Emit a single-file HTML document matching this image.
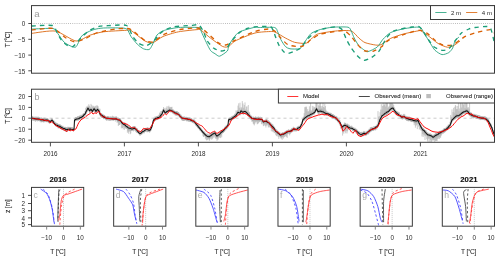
<!DOCTYPE html>
<html><head><meta charset="utf-8"><style>
html,body{margin:0;padding:0;background:#fff;width:500px;height:260px;overflow:hidden}
svg{display:block;will-change:transform;font-family:"Liberation Sans", sans-serif}
</style></head><body>
<svg width="500" height="260" viewBox="0 0 500 260">
<rect x="0" y="0" width="500" height="260" fill="#fff"/>
<defs><clipPath id="ca"><rect x="31.5" y="5.6" width="463.0" height="67.6"/></clipPath><clipPath id="cb"><rect x="31.5" y="89.2" width="463.0" height="53.1"/></clipPath><clipPath id="cc0"><rect x="31.5" y="187.4" width="52.2" height="38.8"/></clipPath><clipPath id="cc1"><rect x="113.7" y="187.4" width="52.2" height="38.8"/></clipPath><clipPath id="cc2"><rect x="195.8" y="187.4" width="52.2" height="38.8"/></clipPath><clipPath id="cc3"><rect x="278.0" y="187.4" width="52.2" height="38.8"/></clipPath><clipPath id="cc4"><rect x="360.1" y="187.4" width="52.2" height="38.8"/></clipPath><clipPath id="cc5"><rect x="442.3" y="187.4" width="52.2" height="38.8"/></clipPath></defs>
<line x1="31.50" y1="23.50" x2="494.50" y2="23.50" stroke="#8a8a8a" stroke-width="0.70" stroke-dasharray="0.8 1.35"/>
<g clip-path="url(#ca)">
<path d="M31.50 33.40 C34.37 33.12 50.06 30.19 55.40 31.10 C60.74 32.01 71.85 40.51 76.00 41.00 C80.15 41.49 86.70 36.30 90.00 35.20 C93.30 34.10 99.12 32.39 103.50 31.80 C107.88 31.21 123.20 30.46 126.50 30.30 C129.80 30.14 128.78 29.22 131.00 30.50 C133.22 31.78 142.36 39.55 145.00 41.00 C147.64 42.45 150.84 43.14 153.00 42.60 C155.16 42.06 159.94 37.80 163.00 36.50 C166.06 35.20 174.24 32.64 178.50 31.80 C182.76 30.96 195.78 29.68 198.50 29.50 C201.22 29.32 199.77 29.28 201.20 30.30 C202.63 31.32 207.82 36.06 210.40 38.00 C212.98 39.94 220.49 45.48 222.70 46.50 C224.91 47.52 227.32 47.16 228.80 46.50 C230.28 45.84 231.86 42.62 235.00 41.00 C238.14 39.38 250.62 34.14 255.00 33.00 C259.38 31.86 268.96 31.55 271.50 31.50 C274.04 31.45 274.53 31.82 276.20 32.60 C277.87 33.38 283.19 36.84 285.40 38.00 C287.61 39.16 292.20 41.65 294.60 42.30 C297.00 42.95 303.55 43.64 305.40 43.40 C307.25 43.16 308.57 41.40 310.00 40.30 C311.43 39.20 314.20 35.32 317.30 34.20 C320.40 33.08 331.73 31.38 335.80 31.00 C339.87 30.62 348.44 30.16 351.20 31.00 C353.96 31.84 357.14 36.61 358.80 38.00 C360.46 39.39 363.01 41.76 365.00 42.60 C366.99 43.44 373.46 44.76 375.40 45.00 C377.34 45.24 379.35 45.40 381.20 44.60 C383.05 43.80 388.04 39.60 390.80 38.30 C393.56 37.00 400.74 34.72 404.20 33.80 C407.66 32.88 417.56 30.94 419.60 30.60 C421.64 30.26 420.28 30.47 421.20 31.00 C422.12 31.53 425.28 33.51 427.30 35.00 C429.32 36.49 435.60 41.94 438.00 43.40 C440.40 44.86 445.44 46.92 447.30 47.20 C449.16 47.48 451.98 46.44 453.50 45.70 C455.02 44.96 459.22 41.56 460.00 41.00" fill="none" stroke="#d95f02" stroke-width="0.85" stroke-linejoin="round"/>
<path d="M31.50 29.10 C34.08 29.03 49.86 27.98 53.00 28.50 C56.14 29.02 56.31 31.71 57.70 33.40 C59.09 35.09 62.48 40.94 64.60 42.60 C66.72 44.26 73.46 47.85 75.40 47.20 C77.34 46.55 79.65 38.86 80.80 37.20 C81.95 35.54 83.39 34.32 85.00 33.40 C86.61 32.48 91.98 30.15 94.20 29.50 C96.42 28.85 100.16 28.18 103.50 28.00 C106.84 27.82 119.14 27.82 122.00 28.00 C124.86 28.18 126.22 28.48 127.30 29.50 C128.38 30.52 129.80 34.74 131.00 36.50 C132.20 38.26 135.80 42.72 137.30 44.20 C138.80 45.68 142.07 48.16 143.50 48.80 C144.93 49.44 148.14 49.96 149.20 49.50 C150.26 49.04 151.36 46.74 152.30 45.00 C153.24 43.26 155.52 36.76 157.00 35.00 C158.48 33.24 162.02 31.20 164.60 30.30 C167.18 29.40 174.43 27.84 178.50 27.50 C182.57 27.16 195.87 27.26 198.50 27.50 C201.13 27.74 199.72 28.24 200.40 29.50 C201.08 30.76 203.00 35.50 204.20 38.00 C205.40 40.50 209.10 48.42 210.40 50.30 C211.70 52.18 213.90 52.99 215.00 53.70 C216.10 54.41 218.12 56.52 219.60 56.20 C221.08 55.88 226.20 52.26 227.30 51.00 C228.40 49.74 228.06 47.26 228.80 45.70 C229.54 44.14 232.20 39.67 233.50 38.00 C234.80 36.33 237.02 33.10 239.60 31.80 C242.18 30.50 252.65 27.72 255.00 27.20 C257.35 26.68 256.85 27.46 259.20 27.50 C261.55 27.54 272.38 26.98 274.60 27.50 C276.82 28.02 276.96 30.36 277.70 31.80 C278.44 33.24 279.88 37.74 280.80 39.50 C281.72 41.26 284.30 45.38 285.40 46.50 C286.50 47.62 288.34 48.52 290.00 48.80 C291.66 49.08 297.72 49.17 299.20 48.80 C300.68 48.43 301.56 46.64 302.30 45.70 C303.04 44.76 304.33 42.48 305.40 41.00 C306.47 39.52 309.40 34.78 311.20 33.40 C313.00 32.02 317.82 30.24 320.40 29.50 C322.98 28.76 329.39 27.48 332.70 27.20 C336.01 26.92 345.78 26.74 348.00 27.20 C350.22 27.66 350.46 29.70 351.20 31.00 C351.94 32.30 353.29 36.24 354.20 38.00 C355.11 39.76 357.68 44.32 358.80 45.70 C359.92 47.08 362.43 48.78 363.50 49.50 C364.57 50.22 366.04 52.00 367.70 51.70 C369.36 51.40 375.46 48.50 377.30 47.00 C379.14 45.50 381.38 40.94 383.00 39.20 C384.62 37.46 388.26 33.76 390.80 32.50 C393.34 31.24 400.74 29.34 404.20 28.70 C407.66 28.06 417.20 26.64 419.60 27.20 C422.00 27.76 422.90 31.46 424.20 33.40 C425.50 35.34 429.10 41.37 430.40 43.40 C431.70 45.43 433.61 48.96 435.00 50.30 C436.39 51.64 440.34 54.32 442.00 54.60 C443.66 54.88 447.52 53.39 448.80 52.60 C450.08 51.81 451.96 49.39 452.70 48.00 C453.44 46.61 454.24 42.32 455.00 41.00 C455.76 39.68 458.52 37.48 459.00 37.00" fill="none" stroke="#1b9e77" stroke-width="0.85" stroke-linejoin="round"/>
<path d="M31.50 30.00 C34.08 29.82 48.86 27.54 53.00 28.50 C57.14 29.46 63.41 36.40 66.00 38.00 C68.59 39.60 72.56 41.62 74.60 41.80 C76.64 41.98 81.15 40.17 83.00 39.50 C84.85 38.83 88.28 37.03 90.00 36.20 C91.72 35.37 94.20 33.46 97.30 32.60 C100.40 31.74 112.48 29.49 115.80 29.00 C119.12 28.51 123.18 28.44 125.00 28.50 C126.82 28.56 128.78 28.18 131.00 29.50 C133.22 30.82 141.70 38.12 143.50 39.50 C145.30 40.88 144.86 40.72 146.00 41.00 C147.14 41.28 150.77 42.62 153.00 41.80 C155.23 40.98 161.36 35.68 164.60 34.20 C167.84 32.72 176.11 30.24 180.00 29.50 C183.89 28.76 194.10 27.90 197.00 28.00 C199.90 28.10 201.68 28.55 204.20 30.30 C206.72 32.05 215.41 40.84 218.00 42.60 C220.59 44.36 223.76 45.28 225.80 45.00 C227.84 44.72 231.50 41.92 235.00 40.30 C238.50 38.68 250.98 32.86 255.00 31.50 C259.02 30.14 266.15 29.06 268.50 29.00 C270.85 28.94 273.12 29.92 274.60 31.00 C276.08 32.08 279.13 36.32 280.80 38.00 C282.47 39.68 286.10 43.98 288.50 45.00 C290.90 46.02 298.58 46.69 300.80 46.50 C303.02 46.31 305.90 44.14 307.00 43.40 C308.10 42.66 308.39 41.40 310.00 40.30 C311.61 39.20 316.94 35.32 320.40 34.20 C323.86 33.08 335.85 31.38 338.80 31.00 C341.75 30.62 343.51 30.34 345.00 31.00 C346.49 31.66 349.72 34.92 351.20 36.50 C352.68 38.08 355.82 42.54 357.30 44.20 C358.78 45.86 362.25 49.46 363.50 50.30 C364.75 51.14 366.50 51.09 367.70 51.20 C368.90 51.31 371.88 51.70 373.50 51.20 C375.12 50.70 379.36 48.32 381.20 47.00 C383.04 45.68 386.04 41.71 388.80 40.20 C391.56 38.69 400.50 35.59 404.20 34.40 C407.90 33.21 416.83 30.42 419.60 30.30 C422.37 30.18 425.45 32.20 427.30 33.40 C429.15 34.60 433.15 38.91 435.00 40.30 C436.85 41.69 440.67 44.44 442.70 45.00 C444.73 45.56 449.87 45.56 451.90 45.00 C453.93 44.44 457.93 41.36 459.60 40.30 C461.27 39.24 463.83 37.11 465.80 36.20 C467.77 35.29 473.10 33.49 476.00 32.70 C478.90 31.91 488.04 29.68 490.00 29.60 C491.96 29.52 491.82 31.59 492.30 32.00 C492.78 32.41 493.80 32.88 494.00 33.00" fill="none" stroke="#d95f02" stroke-width="1.35" stroke-dasharray="4.3 4.2" stroke-linejoin="round"/>
<path d="M31.50 26.00 C34.00 25.94 49.24 24.71 52.30 25.50 C55.36 26.29 55.90 30.82 57.00 32.60 C58.10 34.38 60.22 38.73 61.50 40.30 C62.78 41.87 66.32 44.96 67.70 45.70 C69.08 46.44 71.43 47.42 73.00 46.50 C74.57 45.58 78.76 39.98 80.80 38.00 C82.84 36.02 87.70 31.42 90.00 30.00 C92.30 28.58 97.84 26.72 100.00 26.20 C102.16 25.68 104.82 25.78 108.00 25.70 C111.18 25.62 123.54 24.20 126.50 25.50 C129.46 26.80 131.22 34.35 132.70 36.50 C134.18 38.65 137.20 42.30 138.80 43.40 C140.40 44.50 144.20 45.99 146.00 45.70 C147.80 45.41 152.12 42.48 153.80 41.00 C155.48 39.52 158.54 34.78 160.00 33.40 C161.46 32.02 164.34 30.29 166.00 29.50 C167.66 28.71 170.82 27.29 173.80 26.80 C176.78 26.31 187.80 25.62 190.80 25.40 C193.80 25.18 197.28 24.23 198.80 25.00 C200.32 25.77 202.48 29.88 203.50 31.80 C204.52 33.72 206.10 39.06 207.30 41.00 C208.50 42.94 211.93 46.80 213.50 48.00 C215.07 49.20 218.92 50.82 220.40 51.00 C221.88 51.18 224.60 50.51 225.80 49.50 C227.00 48.49 228.74 44.63 230.40 42.60 C232.06 40.57 237.57 34.29 239.60 32.60 C241.63 30.91 245.45 29.20 247.30 28.50 C249.15 27.80 252.28 27.04 255.00 26.80 C257.72 26.56 267.84 26.08 270.00 26.50 C272.16 26.92 272.28 28.92 273.00 30.30 C273.72 31.68 275.26 36.15 276.00 38.00 C276.74 39.85 278.17 43.95 279.20 45.70 C280.23 47.45 283.48 51.68 284.60 52.60 C285.72 53.52 287.30 53.59 288.50 53.40 C289.70 53.21 293.12 51.65 294.60 51.00 C296.08 50.35 299.31 49.38 300.80 48.00 C302.29 46.62 305.20 41.44 307.00 39.50 C308.80 37.56 313.64 33.12 315.80 31.80 C317.96 30.48 322.60 29.10 325.00 28.50 C327.40 27.90 333.76 26.68 335.80 26.80 C337.84 26.92 340.72 27.98 342.00 29.50 C343.28 31.02 345.40 37.28 346.50 39.50 C347.60 41.72 349.90 46.06 351.20 48.00 C352.50 49.94 355.79 54.21 357.30 55.70 C358.81 57.19 362.10 60.18 363.80 60.40 C365.50 60.62 369.65 58.65 371.50 57.50 C373.35 56.35 377.34 53.22 379.20 50.80 C381.06 48.38 385.15 39.72 387.00 37.30 C388.85 34.88 391.84 31.80 394.60 30.60 C397.36 29.40 407.00 27.73 410.00 27.30 C413.00 26.87 417.52 25.72 419.60 27.00 C421.68 28.28 425.63 35.66 427.30 38.00 C428.97 40.34 431.74 45.02 433.50 46.50 C435.26 47.98 440.16 50.02 442.00 50.30 C443.84 50.58 447.24 49.92 448.80 48.80 C450.36 47.68 453.54 42.85 455.00 41.00 C456.46 39.15 459.34 34.84 461.00 33.40 C462.66 31.96 467.12 29.71 468.80 29.00 C470.48 28.29 472.82 27.80 475.00 27.50 C477.18 27.20 485.10 26.34 487.00 26.50 C488.90 26.66 489.96 27.06 490.80 28.80 C491.64 30.54 493.62 39.54 494.00 41.00" fill="none" stroke="#1b9e77" stroke-width="1.35" stroke-dasharray="4.3 4.2" stroke-linejoin="round"/>
</g>
<rect x="31.50" y="5.60" width="463.00" height="67.60" stroke="#3a3a3a" stroke-width="1.00" fill="none"/>
<line x1="28.30" y1="23.50" x2="31.50" y2="23.50" stroke="#3a3a3a" stroke-width="0.90"/>
<text x="25.20" y="26.20" font-size="6.30" text-anchor="end" fill="#2a2a2a" font-weight="normal">0</text>
<line x1="28.30" y1="39.30" x2="31.50" y2="39.30" stroke="#3a3a3a" stroke-width="0.90"/>
<text x="25.20" y="42.00" font-size="6.30" text-anchor="end" fill="#2a2a2a" font-weight="normal">−5</text>
<line x1="28.30" y1="55.10" x2="31.50" y2="55.10" stroke="#3a3a3a" stroke-width="0.90"/>
<text x="25.20" y="57.80" font-size="6.30" text-anchor="end" fill="#2a2a2a" font-weight="normal">−10</text>
<line x1="28.30" y1="70.80" x2="31.50" y2="70.80" stroke="#3a3a3a" stroke-width="0.90"/>
<text x="25.20" y="73.50" font-size="6.30" text-anchor="end" fill="#2a2a2a" font-weight="normal">−15</text>
<text x="9.90" y="39.70" font-size="6.60" text-anchor="middle" fill="#2a2a2a" font-weight="normal" transform="rotate(-90 9.90 39.70)" letter-spacing="-0.25" stroke="#222" stroke-width="0.1">T [°C]</text>
<text x="34.20" y="16.60" font-size="9.60" text-anchor="start" fill="#9a9a9a" font-weight="normal">a</text>
<rect x="430.50" y="5.60" width="64.00" height="13.90" stroke="#3a3a3a" stroke-width="1.00" fill="#fff"/>
<line x1="435.30" y1="12.50" x2="446.50" y2="12.50" stroke="#1b9e77" stroke-width="0.80"/>
<text x="451.00" y="14.70" font-size="6.10" text-anchor="start" fill="#2a2a2a" font-weight="normal">2 m</text>
<line x1="466.10" y1="12.50" x2="477.30" y2="12.50" stroke="#d95f02" stroke-width="0.80"/>
<text x="481.80" y="14.70" font-size="6.10" text-anchor="start" fill="#2a2a2a" font-weight="normal">4 m</text>
<line x1="31.50" y1="118.20" x2="494.50" y2="118.20" stroke="#b5b5b5" stroke-width="0.70" stroke-dasharray="3 3"/>
<g clip-path="url(#cb)">
<path d="M31.5 116.5 L33.2 116.9 L34.9 116.8 L36.6 116.7 L38.3 117.9 L40.0 117.8 L41.7 118.3 L43.3 117.8 L45.0 118.1 L47.0 118.2 L48.5 119.6 L50.0 119.9 L52.0 118.2 L53.5 120.4 L55.0 122.7 L56.8 123.2 L58.5 124.2 L60.2 124.6 L62.0 126.3 L64.0 127.2 L66.0 127.5 L68.0 127.6 L70.0 126.7 L72.0 127.5 L74.0 128.3 L74.5 118.1 L75.5 117.6 L78.0 116.8 L80.0 115.9 L82.0 115.4 L83.5 113.5 L85.0 112.8 L87.0 108.1 L88.0 106.4 L89.5 108.8 L91.0 107.7 L92.5 109.6 L94.0 106.7 L96.0 109.6 L97.5 107.5 L99.0 109.2 L100.0 112.3 L101.5 113.3 L103.0 114.3 L104.5 115.6 L106.0 116.5 L108.0 116.4 L110.0 117.1 L111.5 117.3 L113.0 116.8 L114.5 117.1 L116.0 116.5 L118.0 118.1 L120.0 117.9 L122.0 121.4 L123.5 122.5 L125.0 122.7 L126.5 124.3 L128.0 125.6 L129.7 126.7 L131.4 127.3 L133.1 126.1 L134.7 126.1 L136.3 128.4 L138.0 129.7 L140.0 132.2 L141.5 131.0 L143.0 129.5 L144.5 128.3 L146.0 128.1 L148.0 127.6 L150.0 128.4 L152.0 124.4 L153.5 118.5 L155.0 117.5 L157.0 116.1 L159.0 115.6 L160.5 113.8 L162.0 112.1 L163.5 108.4 L165.0 111.2 L167.0 110.0 L169.5 108.5 L172.0 108.9 L173.5 109.9 L175.0 111.3 L176.5 111.1 L178.0 111.9 L180.0 113.9 L182.0 116.7 L184.0 117.1 L186.0 117.5 L188.0 117.4 L190.0 117.6 L192.1 118.8 L194.2 119.9 L196.9 123.0 L198.6 125.2 L200.2 127.3 L203.0 130.6 L204.5 132.2 L206.0 133.5 L207.5 134.9 L209.0 134.9 L210.5 134.2 L212.0 132.5 L213.5 132.1 L215.0 130.8 L217.0 134.6 L218.5 133.0 L220.0 132.1 L222.0 130.0 L224.0 128.4 L226.0 125.7 L228.0 124.0 L228.5 117.9 L231.0 117.9 L232.5 116.2 L234.0 114.9 L236.0 113.3 L238.0 110.2 L240.0 111.4 L241.0 109.0 L243.0 110.8 L245.0 110.1 L247.0 111.6 L249.0 113.3 L250.5 115.1 L252.0 117.1 L253.7 117.0 L255.5 117.1 L257.2 117.4 L258.8 116.9 L260.4 117.9 L262.0 118.1 L263.4 120.5 L264.9 119.8 L266.5 119.1 L268.0 121.0 L269.5 121.6 L271.1 123.4 L272.6 125.0 L274.2 126.3 L275.7 129.2 L277.2 130.6 L278.8 131.4 L280.3 133.5 L281.9 132.9 L283.4 132.9 L285.3 131.0 L287.2 130.6 L288.8 130.2 L290.3 129.8 L291.9 128.3 L293.4 127.2 L296.0 128.2 L298.0 126.7 L300.0 125.8 L302.0 121.5 L303.0 117.9 L304.5 116.2 L306.0 115.7 L308.0 114.4 L310.0 113.3 L311.5 112.1 L313.0 111.9 L315.0 109.7 L316.5 106.8 L318.0 109.6 L319.5 109.3 L321.0 109.0 L323.0 109.7 L324.5 111.1 L326.0 111.3 L327.5 112.3 L329.0 112.8 L331.0 112.8 L333.0 114.4 L334.5 115.5 L336.0 116.4 L338.0 118.2 L340.0 121.1 L342.0 125.1 L343.5 125.0 L345.0 123.2 L347.0 124.1 L348.5 125.5 L350.0 126.2 L352.5 126.9 L355.0 128.5 L356.5 128.8 L358.0 130.4 L359.5 132.3 L361.0 132.5 L362.5 132.7 L364.0 131.2 L366.0 132.6 L367.5 130.9 L369.0 129.8 L370.5 128.1 L372.0 127.6 L373.5 127.6 L375.0 126.4 L376.5 124.7 L378.0 124.1 L380.0 117.7 L382.0 114.0 L383.5 113.2 L385.0 111.4 L386.5 111.5 L388.0 110.1 L389.5 108.6 L391.0 106.7 L393.0 106.3 L395.0 109.5 L397.0 112.1 L398.5 112.8 L400.0 114.4 L402.0 115.6 L404.0 114.3 L406.0 116.5 L408.0 116.6 L410.0 117.3 L411.5 118.1 L413.0 118.5 L414.5 119.6 L416.0 119.5 L418.0 119.0 L420.0 122.9 L422.0 126.7 L423.5 128.2 L425.0 129.7 L426.5 131.7 L428.0 133.5 L429.5 133.5 L431.0 134.1 L433.0 135.0 L434.5 134.5 L436.0 133.4 L438.0 131.9 L440.0 130.9 L442.0 130.3 L444.0 128.5 L445.5 128.1 L447.0 127.0 L448.5 125.5 L450.0 123.6 L452.0 118.4 L453.0 117.7 L454.5 116.4 L456.0 114.0 L457.5 114.3 L459.0 114.0 L461.0 112.0 L463.0 110.9 L465.0 109.4 L467.0 108.9 L469.0 111.0 L470.5 112.2 L472.0 114.0 L473.0 113.8 L474.5 114.4 L476.0 114.8 L478.0 115.1 L479.5 115.4 L481.0 115.9 L482.5 116.6 L484.0 116.8 L486.0 117.3 L488.0 118.6 L490.0 122.1 L492.0 126.6 L494.5 134.1 L494.5 137.7 L492.0 129.4 L490.0 126.0 L488.0 122.7 L486.0 120.5 L484.0 119.7 L482.5 120.0 L481.0 119.6 L479.5 119.0 L478.0 118.9 L476.0 118.2 L474.5 117.7 L473.0 117.3 L472.0 117.4 L470.5 116.5 L469.0 115.2 L467.0 112.4 L465.0 112.8 L463.0 114.1 L461.0 116.0 L459.0 116.7 L457.5 117.9 L456.0 118.4 L454.5 119.4 L453.0 121.0 L452.0 121.6 L450.0 126.9 L448.5 128.9 L447.0 129.9 L445.5 131.7 L444.0 132.2 L442.0 133.7 L440.0 134.8 L438.0 136.1 L436.0 137.4 L434.5 137.9 L433.0 138.9 L431.0 137.2 L429.5 137.1 L428.0 136.6 L426.5 135.3 L425.0 133.8 L423.5 132.6 L422.0 130.7 L420.0 126.8 L418.0 122.0 L416.0 123.3 L414.5 122.8 L413.0 121.5 L411.5 121.9 L410.0 121.1 L408.0 120.7 L406.0 120.2 L404.0 118.6 L402.0 119.4 L400.0 117.8 L398.5 115.8 L397.0 115.3 L395.0 112.5 L393.0 110.1 L391.0 110.7 L389.5 112.0 L388.0 114.0 L386.5 114.9 L385.0 115.2 L383.5 116.8 L382.0 117.3 L380.0 120.8 L378.0 127.4 L376.5 128.4 L375.0 130.0 L373.5 130.8 L372.0 130.8 L370.5 131.7 L369.0 133.3 L367.5 134.5 L366.0 135.5 L364.0 135.0 L362.5 135.5 L361.0 136.0 L359.5 135.3 L358.0 134.4 L356.5 132.5 L355.0 132.0 L352.5 130.2 L350.0 129.8 L348.5 128.7 L347.0 127.5 L345.0 127.2 L343.5 127.7 L342.0 129.0 L340.0 124.7 L338.0 122.1 L336.0 120.2 L334.5 118.9 L333.0 117.8 L331.0 116.7 L329.0 115.8 L327.5 115.8 L326.0 115.1 L324.5 114.4 L323.0 113.9 L321.0 112.9 L319.5 113.4 L318.0 113.5 L316.5 110.6 L315.0 113.8 L313.0 115.2 L311.5 115.7 L310.0 117.2 L308.0 117.8 L306.0 119.1 L304.5 119.8 L303.0 120.9 L302.0 124.8 L300.0 128.9 L298.0 130.3 L296.0 131.0 L293.4 131.2 L291.9 131.7 L290.3 133.4 L288.8 132.9 L287.2 134.1 L285.3 134.4 L283.4 136.0 L281.9 136.9 L280.3 136.9 L278.8 135.0 L277.2 133.7 L275.7 132.8 L274.2 130.2 L272.6 128.8 L271.1 127.0 L269.5 125.4 L268.0 124.3 L266.5 123.4 L264.9 123.3 L263.4 123.7 L262.0 121.7 L260.4 121.2 L258.8 120.9 L257.2 121.0 L255.5 120.5 L253.7 120.8 L252.0 120.8 L250.5 119.0 L249.0 117.5 L247.0 115.0 L245.0 113.7 L243.0 114.2 L241.0 112.8 L240.0 115.2 L238.0 114.5 L236.0 117.5 L234.0 118.7 L232.5 119.3 L231.0 121.3 L228.5 121.7 L228.0 127.0 L226.0 129.5 L224.0 132.0 L222.0 133.4 L220.0 135.8 L218.5 136.8 L217.0 138.2 L215.0 135.1 L213.5 134.9 L212.0 136.6 L210.5 137.6 L209.0 138.9 L207.5 138.0 L206.0 136.9 L204.5 135.5 L203.0 134.4 L200.2 130.4 L198.6 128.9 L196.9 126.9 L194.2 123.8 L192.1 122.2 L190.0 121.6 L188.0 121.1 L186.0 120.2 L184.0 120.8 L182.0 120.5 L180.0 118.1 L178.0 115.4 L176.5 115.5 L175.0 114.5 L173.5 113.7 L172.0 112.2 L169.5 111.5 L167.0 113.6 L165.0 114.2 L163.5 112.2 L162.0 115.8 L160.5 117.8 L159.0 118.8 L157.0 119.7 L155.0 121.0 L153.5 121.5 L152.0 127.8 L150.0 131.9 L148.0 132.0 L146.0 131.3 L144.5 132.2 L143.0 133.2 L141.5 134.0 L140.0 135.4 L138.0 133.0 L136.3 132.4 L134.7 130.0 L133.1 130.1 L131.4 130.9 L129.7 130.5 L128.0 129.8 L126.5 127.9 L125.0 126.7 L123.5 125.6 L122.0 124.5 L120.0 121.9 L118.0 121.6 L116.0 120.1 L114.5 120.1 L113.0 120.8 L111.5 120.3 L110.0 120.6 L108.0 120.3 L106.0 119.8 L104.5 119.1 L103.0 117.9 L101.5 117.6 L100.0 115.5 L99.0 112.6 L97.5 111.4 L96.0 113.2 L94.0 110.1 L92.5 113.2 L91.0 111.5 L89.5 112.4 L88.0 110.3 L87.0 112.4 L85.0 115.7 L83.5 116.8 L82.0 118.7 L80.0 119.7 L78.0 120.5 L75.5 121.0 L74.5 121.7 L74.0 131.8 L72.0 130.6 L70.0 130.7 L68.0 131.0 L66.0 131.8 L64.0 130.2 L62.0 129.7 L60.2 128.3 L58.5 127.8 L56.8 126.4 L55.0 125.5 L53.5 123.8 L52.0 121.8 L50.0 123.6 L48.5 123.0 L47.0 121.6 L45.0 121.6 L43.3 122.2 L41.7 122.1 L40.0 120.9 L38.3 120.9 L36.6 120.2 L34.9 120.1 L33.2 120.5 L31.5 120.1 Z" fill="#c0c0c0" stroke="none"/>
<path d="M31.5 116.9V119.4M32.1 115.9V119.5M32.6 116.0V120.6M33.2 117.0V120.4M33.8 116.5V120.8M34.3 117.3V120.4M34.9 118.0V121.3M35.5 118.0V121.7M36.0 116.6V120.4M36.6 118.0V120.8M37.2 117.4V121.5M37.7 116.7V120.2M38.3 116.6V121.1M38.9 117.1V120.5M39.4 117.3V121.3M40.0 118.1V121.4M40.6 117.6V121.3M41.1 118.0V122.6M41.7 117.2V121.7M42.2 118.8V121.5M42.8 118.4V121.7M43.3 118.1V121.9M43.9 119.0V122.7M44.4 117.8V121.6M45.0 117.8V121.9M45.7 119.1V122.1M46.3 119.0V122.1M47.0 118.2V122.2M47.6 118.2V121.8M48.2 118.6V122.1M48.8 119.8V122.8M49.4 120.2V123.8M50.0 119.9V122.8M50.7 120.0V123.3M51.3 118.6V122.1M52.0 118.1V121.7M52.6 119.2V123.3M53.2 120.4V124.0M53.8 120.4V124.0M54.4 120.9V124.9M55.0 122.4V125.5M55.6 121.8V126.3M56.2 122.6V126.4M56.8 123.1V127.0M57.3 123.2V126.8M57.9 123.6V128.3M58.5 124.3V128.4M59.1 124.3V127.5M59.7 124.5V128.3M60.2 124.4V128.5M60.8 125.7V128.9M61.4 125.3V129.4M62.0 125.7V129.9M62.6 126.0V129.6M63.1 125.8V130.1M63.7 127.5V130.3M64.3 126.8V130.9M64.9 127.3V131.2M65.4 126.8V131.1M66.0 127.1V131.9M66.6 127.4V131.1M67.1 128.3V131.6M67.7 126.8V130.6M68.3 126.8V130.5M68.9 127.2V130.9M69.4 127.4V131.0M70.0 127.6V130.8M70.6 127.0V130.7M71.1 127.6V130.8M71.7 127.4V130.6M72.3 127.0V130.3M72.9 127.7V130.8M73.4 127.9V131.2M74.0 128.2V130.9M74.5 118.3V122.6M75.5 117.2V121.4M76.1 117.2V120.2M76.8 117.0V120.2M77.4 116.1V119.9M78.0 116.4V120.6M78.6 116.4V119.7M79.1 115.8V119.7M79.7 115.5V119.3M80.3 115.6V118.6M80.9 114.8V119.5M81.4 114.8V119.3M82.0 115.5V118.9M82.6 114.3V118.0M83.2 113.4V117.6M83.8 113.4V117.3M84.4 113.1V116.6M85.0 111.2V116.0M85.7 108.1V114.4M86.3 106.8V113.7M87.0 106.4V112.0M88.0 105.6V109.4M88.8 104.2V110.6M89.5 105.7V113.2M90.2 106.8V111.3M91.0 103.9V111.6M91.8 105.0V111.8M92.5 106.5V113.2M93.2 105.8V111.6M94.0 105.9V110.1M94.7 107.0V112.1M95.3 106.1V111.6M96.0 105.7V113.2M96.8 105.4V111.5M97.5 105.6V111.0M98.2 106.3V110.8M99.0 108.5V113.3M100.0 108.8V115.8M100.6 113.0V116.9M101.2 113.0V116.2M101.8 113.9V117.9M102.4 114.1V117.2M103.0 114.5V117.5M103.6 115.5V119.1M104.2 114.9V118.7M104.8 115.5V118.3M105.4 116.3V119.2M106.0 116.7V120.1M106.6 117.1V120.8M107.1 116.5V120.5M107.7 116.0V120.1M108.3 116.2V119.5M108.9 117.4V120.9M109.4 117.3V120.4M110.0 116.2V120.6M110.6 116.7V120.5M111.2 116.7V120.5M111.8 116.7V119.8M112.4 115.7V119.5M113.0 116.5V120.1M113.6 116.6V120.6M114.2 116.5V119.4M114.8 117.1V120.2M115.4 117.1V121.6M116.0 116.4V120.1M116.6 116.6V120.2M117.1 118.0V122.8M117.7 118.0V122.2M118.3 117.5V126.0M118.9 118.9V125.1M119.4 118.6V125.0M120.0 118.2V124.6M120.7 118.7V123.7M121.3 120.5V128.4M122.0 121.2V127.6M122.6 121.7V128.0M123.2 123.0V129.3M123.8 122.1V126.7M124.4 122.6V129.8M125.0 122.5V127.9M125.6 124.2V128.4M126.2 123.6V128.8M126.8 125.0V128.8M127.4 125.0V132.7M128.0 125.7V131.2M128.6 126.8V133.7M129.1 126.9V132.0M129.7 126.4V130.5M130.3 126.8V134.2M130.8 127.6V133.3M131.4 127.2V130.8M132.1 127.4V130.6M132.7 127.0V130.8M133.4 126.9V131.4M134.0 126.8V130.6M134.7 126.1V130.4M135.2 126.3V130.1M135.8 126.9V131.4M136.3 128.9V132.3M136.9 128.0V132.1M137.4 128.5V133.2M138.0 129.8V133.0M138.7 130.4V134.1M139.3 131.4V134.8M140.0 131.8V136.0M140.6 131.8V134.6M141.2 130.6V134.7M141.8 130.6V134.7M142.4 130.4V133.3M143.0 129.2V133.1M143.6 129.3V133.2M144.2 129.6V133.4M144.8 128.2V131.4M145.4 128.5V131.9M146.0 127.7V131.3M146.6 128.2V131.6M147.1 127.7V132.4M147.7 127.2V131.7M148.3 128.4V131.2M148.9 129.0V131.9M149.4 127.9V132.7M150.0 127.9V132.2M150.7 128.0V131.1M151.3 126.7V130.4M152.0 124.7V127.8M152.8 120.7V124.6M153.5 117.8V121.8M154.2 117.9V121.3M155.0 116.4V120.5M155.6 117.2V120.9M156.1 116.3V119.8M156.7 116.7V120.0M157.3 116.3V119.9M157.9 116.1V119.2M158.4 115.7V119.6M159.0 114.7V119.2M159.6 112.6V118.2M160.2 113.1V118.4M160.8 111.2V116.4M161.4 111.1V116.0M162.0 110.8V115.8M162.8 109.1V113.5M163.5 107.1V111.9M164.2 108.7V113.3M165.0 107.8V114.1M165.7 109.6V114.0M166.3 107.7V113.4M167.0 106.2V113.7M167.6 109.4V112.9M168.2 106.6V112.6M168.9 105.7V112.3M169.5 107.3V112.0M170.1 107.1V111.3M170.8 106.9V112.6M171.4 107.1V111.8M172.0 106.8V112.7M172.6 109.8V113.4M173.2 109.3V113.5M173.8 110.1V114.4M174.4 111.3V114.0M175.0 110.9V115.3M175.6 111.9V115.4M176.2 112.0V115.7M176.8 111.4V115.1M177.4 111.4V114.8M178.0 112.0V116.3M178.7 112.0V115.9M179.3 114.4V117.3M180.0 113.8V118.0M180.7 114.7V118.3M181.3 114.9V118.6M182.0 116.6V120.4M182.6 116.6V120.4M183.1 116.7V120.4M183.7 116.8V120.9M184.3 116.3V120.5M184.9 116.8V120.1M185.4 117.1V120.0M186.0 116.8V120.5M186.6 116.9V121.3M187.1 117.3V121.2M187.7 117.3V121.3M188.3 117.7V121.4M188.9 117.9V122.0M189.4 117.8V121.4M190.0 117.9V121.8M190.6 118.6V121.7M191.2 118.2V122.1M191.8 118.4V121.4M192.4 119.7V123.0M193.0 119.1V122.2M193.6 120.2V123.1M194.2 119.1V123.3M194.9 120.1V123.6M195.6 121.2V125.5M196.2 121.9V125.2M196.9 123.1V126.7M197.6 124.7V128.2M198.2 124.4V127.6M198.9 125.1V129.1M199.5 126.2V130.4M200.2 127.0V130.5M200.8 127.8V131.0M201.3 128.7V132.2M201.9 129.6V132.4M202.4 130.3V132.9M203.0 131.0V136.2M203.6 131.6V137.0M204.2 132.4V136.6M204.8 131.3V136.0M205.4 133.1V139.3M206.0 133.4V138.0M206.6 134.2V140.3M207.2 133.5V140.2M207.8 134.2V139.5M208.4 134.5V138.1M209.0 134.7V140.3M209.6 134.4V140.6M210.2 133.5V138.3M210.8 134.5V138.9M211.4 133.3V139.7M212.0 132.2V137.7M212.6 132.9V139.2M213.2 132.9V137.9M213.8 132.3V136.6M214.4 131.9V136.4M215.0 131.2V137.8M215.7 131.8V138.7M216.3 132.7V138.9M217.0 133.9V140.8M217.6 134.5V139.5M218.2 134.2V139.5M218.8 133.0V137.8M219.4 131.9V137.4M220.0 131.9V137.3M220.6 131.7V138.1M221.1 130.3V135.6M221.7 131.3V137.3M222.3 130.1V133.6M222.9 128.7V132.7M223.4 129.4V133.0M224.0 128.2V132.0M224.6 126.8V131.4M225.1 126.9V130.1M225.7 125.9V130.3M226.3 125.2V129.4M226.9 125.5V129.0M227.4 124.2V128.2M228.0 123.8V127.4M228.5 118.6V121.9M229.1 117.7V121.7M229.8 117.6V121.7M230.4 116.9V120.8M231.0 117.3V120.6M231.6 116.3V120.9M232.2 115.9V119.4M232.8 115.8V119.3M233.4 115.7V119.5M234.0 115.6V118.6M234.7 113.8V118.2M235.3 113.8V117.7M236.0 110.4V117.8M236.7 111.3V116.6M237.3 110.0V115.4M238.0 105.6V114.6M238.7 103.3V114.2M239.3 107.7V114.4M240.0 102.7V115.6M241.0 107.4V112.3M241.7 107.5V113.1M242.3 101.1V113.5M243.0 103.5V114.7M243.7 107.7V114.8M244.3 105.0V113.6M245.0 102.4V113.1M245.7 109.5V114.3M246.3 106.7V114.8M247.0 106.4V114.6M247.7 110.4V115.8M248.3 105.0V116.4M249.0 111.8V116.7M249.6 112.3V117.2M250.2 114.5V119.0M250.8 115.0V119.6M251.4 115.8V120.0M252.0 116.4V122.0M252.6 117.8V121.3M253.2 116.6V123.6M253.7 116.7V124.3M254.3 117.8V125.4M254.9 117.7V123.7M255.5 116.4V122.4M256.0 116.8V121.1M256.6 117.7V122.3M257.2 116.8V124.3M257.8 117.1V124.0M258.4 116.4V123.2M259.0 117.8V122.4M259.6 117.0V122.0M260.2 116.6V121.3M260.8 117.3V121.2M261.4 117.0V123.9M262.0 117.2V124.4M262.7 119.4V123.4M263.4 120.1V126.2M264.0 120.2V125.7M264.6 120.3V124.7M265.3 119.8V125.9M265.9 119.6V127.5M266.5 119.3V125.6M267.1 119.0V124.2M267.7 120.0V125.5M268.3 120.0V127.5M268.9 120.8V127.1M269.5 121.6V126.6M270.1 122.6V127.9M270.7 122.2V127.7M271.3 123.7V131.3M271.9 123.7V129.0M272.4 124.3V131.2M273.0 124.6V132.1M273.6 126.3V131.5M274.2 127.2V133.2M274.9 127.7V133.0M275.7 130.0V134.8M276.3 129.3V135.8M276.9 129.7V136.2M277.6 131.3V135.4M278.2 132.0V137.0M278.8 131.6V138.9M279.6 132.3V136.6M280.3 132.7V137.5M280.9 134.0V138.4M281.5 133.5V138.5M282.2 132.3V139.8M282.8 132.0V137.2M283.4 132.3V138.5M284.0 132.4V137.3M284.7 131.8V137.0M285.3 131.6V136.3M285.9 130.9V135.8M286.6 130.4V136.9M287.2 130.4V137.9M287.8 130.2V134.1M288.4 129.1V133.3M289.1 129.6V134.3M289.7 130.0V135.4M290.3 129.6V133.7M290.9 129.7V133.1M291.5 128.5V132.4M292.2 128.5V132.2M292.8 128.0V132.0M293.4 126.7V130.7M294.0 128.0V131.0M294.7 127.3V131.4M295.4 127.9V130.9M296.0 128.0V131.8M296.6 127.7V131.0M297.1 126.9V130.7M297.7 126.3V129.8M298.3 126.4V130.1M298.9 125.7V130.0M299.4 126.6V130.5M300.0 125.7V128.6M300.7 124.0V128.3M301.3 122.6V125.9M302.0 120.9V124.8M303.0 117.9V122.0M303.6 116.6V121.0M304.2 113.2V120.8M304.8 107.2V120.7M305.4 106.7V119.4M306.0 107.5V118.8M306.6 106.6V119.9M307.1 111.4V118.2M307.7 109.1V117.9M308.3 111.5V117.5M308.9 111.1V117.1M309.4 106.3V117.5M310.0 109.8V116.3M310.6 102.9V116.5M311.2 110.9V117.2M311.8 110.2V115.5M312.4 105.9V114.8M313.0 108.6V115.0M313.7 106.4V114.3M314.3 107.2V114.3M315.0 107.2V113.1M315.8 100.0V112.1M316.5 98.9V110.4M317.2 102.0V111.3M318.0 108.3V113.7M318.6 105.4V114.2M319.2 103.3V114.0M319.8 105.8V112.4M320.4 102.9V113.0M321.0 106.0V113.5M321.7 107.6V112.5M322.3 105.9V113.9M323.0 99.5V114.2M323.6 107.0V114.1M324.2 107.6V114.5M324.8 103.7V114.4M325.4 106.1V114.5M326.0 109.7V115.5M326.6 111.8V115.9M327.2 111.7V115.8M327.8 111.6V115.4M328.4 113.2V116.2M329.0 112.4V115.9M329.6 113.0V116.3M330.1 113.1V116.8M330.7 113.8V117.3M331.3 113.8V117.8M331.9 114.3V117.2M332.4 114.8V117.8M333.0 114.1V118.9M333.6 114.5V117.9M334.2 115.1V118.1M334.8 115.4V119.1M335.4 117.0V120.1M336.0 116.2V120.1M336.7 116.1V120.0M337.3 117.4V120.9M338.0 118.7V122.5M338.7 119.5V122.7M339.3 119.5V124.6M340.0 120.2V125.7M340.7 122.5V128.5M341.3 124.3V129.2M342.0 125.3V130.4M342.6 125.2V135.6M343.2 124.1V132.4M343.8 124.7V133.7M344.4 122.6V131.3M345.0 122.7V131.5M345.7 123.1V133.3M346.3 124.6V131.1M347.0 123.9V133.4M347.6 123.5V131.3M348.2 124.3V127.9M348.8 124.8V128.4M349.4 124.8V129.2M350.0 126.3V129.3M350.6 126.2V129.9M351.2 125.6V129.0M351.9 125.8V129.9M352.5 126.8V130.8M353.1 127.5V131.3M353.8 127.3V130.7M354.4 128.9V131.7M355.0 127.7V131.4M355.6 128.8V132.4M356.2 129.9V133.5M356.8 129.7V133.8M357.4 130.6V134.4M358.0 131.3V134.8M358.6 130.9V134.5M359.2 131.2V135.0M359.8 132.4V136.1M360.4 132.2V136.1M361.0 132.4V136.1M361.6 131.8V136.4M362.2 133.0V135.9M362.8 131.9V136.7M363.4 131.6V135.2M364.0 130.9V134.8M364.7 131.8V135.6M365.3 131.5V135.6M366.0 132.1V135.3M366.6 131.2V135.3M367.2 130.8V133.6M367.8 130.8V133.7M368.4 129.8V134.5M369.0 128.8V133.4M369.6 129.2V132.2M370.2 127.5V132.3M370.8 127.1V131.8M371.4 127.0V131.3M372.0 126.8V131.0M372.6 127.5V130.4M373.2 128.0V130.8M373.8 126.0V129.5M374.4 126.3V129.2M375.0 126.3V129.9M375.6 126.1V130.5M376.2 126.4V129.2M376.8 125.9V129.6M377.4 123.8V127.9M378.0 111.1V126.9M378.7 116.7V125.5M379.3 116.1V123.7M380.0 112.2V121.6M380.7 109.6V119.9M381.3 104.2V119.2M382.0 109.6V117.9M382.6 106.0V117.4M383.2 103.0V115.5M383.8 105.4V116.3M384.4 104.6V115.5M385.0 103.1V114.9M385.6 106.5V115.5M386.2 98.6V115.0M386.8 100.3V114.1M387.4 100.0V113.9M388.0 108.0V113.3M388.6 106.8V113.3M389.2 106.1V112.3M389.8 100.8V111.8M390.4 95.6V110.7M391.0 98.5V110.7M391.7 93.8V110.1M392.3 100.4V110.7M393.0 103.7V109.6M393.7 105.1V111.8M394.3 107.2V111.4M395.0 108.6V113.3M395.7 110.9V113.9M396.3 110.7V115.5M397.0 111.2V115.4M397.6 111.6V115.7M398.2 111.8V116.3M398.8 112.8V116.7M399.4 112.3V116.7M400.0 114.5V117.1M400.7 114.7V118.5M401.3 114.2V118.6M402.0 115.1V118.6M402.7 115.5V119.5M403.3 113.9V118.6M404.0 115.0V118.4M404.7 113.9V117.7M405.3 116.7V119.4M406.0 115.8V119.6M406.6 116.4V120.8M407.1 116.8V120.3M407.7 116.8V121.1M408.3 116.8V121.2M408.9 117.1V121.4M409.4 116.5V120.7M410.0 118.2V121.1M410.6 117.3V121.3M411.2 117.9V122.1M411.8 117.5V121.8M412.4 118.4V122.1M413.0 118.8V121.5M413.6 119.1V122.4M414.2 118.6V125.2M414.8 119.2V123.2M415.4 119.0V127.7M416.0 119.4V125.8M416.7 119.3V124.9M417.3 119.3V129.1M418.0 118.2V124.0M418.7 119.9V126.7M419.3 122.4V129.6M420.0 123.5V128.9M420.7 124.5V130.2M421.3 125.4V130.9M422.0 126.9V136.5M422.6 128.4V134.2M423.2 127.8V136.9M423.8 128.7V134.6M424.4 129.8V135.5M425.0 130.2V140.0M425.6 130.3V136.3M426.2 130.5V135.3M426.8 132.7V139.1M427.4 132.4V140.6M428.0 132.5V142.4M428.6 133.8V138.6M429.2 133.7V138.7M429.8 134.2V141.9M430.4 133.4V139.9M431.0 134.0V142.2M431.7 135.2V141.6M432.3 135.1V139.9M433.0 135.6V140.9M433.6 134.9V139.9M434.2 134.4V140.2M434.8 134.3V142.2M435.4 132.9V141.0M436.0 133.1V140.5M436.6 133.0V140.9M437.1 133.5V141.1M437.7 132.9V138.9M438.3 131.6V138.7M438.9 132.7V137.3M439.4 131.4V138.9M440.0 130.8V137.0M440.6 131.0V137.9M441.1 131.0V136.1M441.7 130.2V134.8M442.3 130.3V133.4M442.9 130.0V133.6M443.4 128.9V133.5M444.0 128.4V132.5M444.6 128.7V132.9M445.2 128.0V131.9M445.8 127.8V131.4M446.4 126.7V130.4M447.0 126.4V129.8M447.6 125.7V130.3M448.2 124.7V128.5M448.8 124.4V128.7M449.4 124.8V128.2M450.0 121.8V126.9M450.7 115.0V126.4M451.3 116.9V124.4M452.0 109.4V122.4M453.0 112.0V120.6M453.6 107.8V119.7M454.2 112.7V119.2M454.8 106.8V119.4M455.4 105.0V119.3M456.0 105.9V118.4M456.6 109.1V117.0M457.2 109.1V117.6M457.8 106.0V116.8M458.4 101.9V117.5M459.0 111.2V117.9M459.7 108.5V116.8M460.3 100.4V115.8M461.0 100.9V116.3M461.7 107.5V116.0M462.3 102.1V114.6M463.0 103.5V114.2M463.7 104.7V114.1M464.3 100.7V114.0M465.0 108.0V112.9M465.7 102.3V114.0M466.3 98.5V113.9M467.0 102.4V112.3M467.7 107.6V113.5M468.3 107.2V114.7M469.0 108.6V115.3M469.6 98.7V115.1M470.2 112.6V116.3M470.8 112.8V115.6M471.4 112.5V116.4M472.0 114.1V117.8M473.0 113.8V117.7M473.6 113.9V118.5M474.2 114.2V117.3M474.8 113.8V117.9M475.4 115.2V118.3M476.0 114.6V117.8M476.7 114.7V119.0M477.3 115.2V118.6M478.0 115.4V118.7M478.6 115.2V119.2M479.2 115.6V119.6M479.8 115.6V119.6M480.4 116.1V120.1M481.0 116.7V119.6M481.6 116.4V119.4M482.2 116.3V119.3M482.8 116.3V119.3M483.4 116.6V120.0M484.0 116.8V120.1M484.7 116.0V120.5M485.3 116.4V120.2M486.0 116.9V120.5M486.7 117.3V121.6M487.3 117.9V122.3M488.0 119.3V122.0M488.7 119.1V123.6M489.3 121.7V124.7M490.0 122.8V126.2M490.7 123.5V127.3M491.3 124.2V128.5M492.0 126.9V130.3M492.6 127.4V132.2M493.2 129.8V133.9M493.9 132.3V135.6M494.5 133.3V137.6" stroke="#a8a8a8" stroke-width="0.6" fill="none"/>
<path d="M31.5 118.2 L32.6 118.2 L33.6 118.6 L34.7 118.6 L35.8 118.9 L36.8 119.1 L37.9 118.9 L38.9 119.0 L40.0 119.5 L41.0 119.9 L42.0 119.6 L43.0 119.7 L44.0 120.4 L45.0 120.2 L46.0 120.0 L47.0 119.9 L48.0 120.7 L49.0 121.0 L50.0 121.5 L51.0 120.9 L52.0 120.2 L53.0 121.3 L54.0 123.0 L55.0 124.2 L56.0 124.9 L57.0 125.2 L58.0 125.8 L59.0 126.3 L60.0 126.3 L61.0 127.3 L62.0 127.6 L63.0 128.2 L64.0 128.5 L65.0 128.8 L66.0 129.6 L67.0 129.7 L68.0 129.2 L69.0 129.2 L70.0 128.9 L71.0 129.3 L72.0 129.4 L73.0 129.7 L74.0 129.6 L74.5 120.2 L75.5 119.5 L76.8 119.1 L78.0 118.8 L79.0 118.5 L80.0 117.8 L81.0 117.6 L82.0 116.8 L83.0 116.2 L84.0 114.7 L85.0 114.1 L86.0 111.8 L87.0 110.1 L88.0 108.1 L89.5 110.8 L91.0 109.4 L92.5 111.4 L94.0 108.7 L95.0 109.9 L96.0 111.4 L97.5 109.4 L99.0 110.8 L100.0 114.1 L101.0 115.1 L102.0 115.5 L103.0 116.2 L104.0 117.0 L105.0 117.4 L106.0 118.2 L107.0 118.3 L108.0 118.3 L109.0 118.4 L110.0 118.6 L111.0 118.7 L112.0 118.7 L113.0 119.0 L114.0 118.9 L115.0 119.1 L116.0 118.8 L117.0 119.4 L118.0 119.8 L119.0 120.0 L120.0 120.2 L121.0 121.3 L122.0 122.9 L123.0 123.8 L124.0 124.6 L125.0 124.9 L126.0 126.1 L127.0 126.7 L128.0 127.6 L129.1 128.2 L130.3 128.3 L131.4 128.9 L132.5 128.9 L133.6 128.6 L134.7 128.3 L135.8 129.2 L136.9 130.2 L138.0 131.6 L139.0 132.8 L140.0 133.6 L141.0 133.3 L142.0 132.0 L143.0 131.6 L144.0 131.1 L145.0 130.2 L146.0 129.6 L147.0 129.5 L148.0 129.8 L149.0 130.3 L150.0 130.3 L151.0 128.5 L152.0 126.2 L153.5 120.2 L155.0 118.8 L156.0 118.2 L157.0 118.2 L158.0 117.5 L159.0 117.5 L160.0 116.5 L161.0 115.1 L162.0 114.1 L163.5 110.1 L165.0 112.8 L166.0 112.4 L167.0 111.4 L168.2 111.1 L169.5 110.1 L170.8 110.5 L172.0 110.8 L173.0 111.8 L174.0 112.0 L175.0 112.8 L176.0 112.9 L177.0 113.7 L178.0 114.1 L179.0 114.8 L180.0 116.2 L181.0 117.0 L182.0 118.2 L183.0 118.3 L184.0 118.6 L185.0 118.4 L186.0 118.8 L187.0 118.7 L188.0 119.4 L189.0 119.2 L190.0 119.5 L191.1 120.3 L192.1 120.8 L193.1 120.9 L194.2 121.5 L195.6 123.2 L196.9 124.9 L198.0 126.2 L199.1 127.7 L200.2 128.9 L201.6 130.7 L203.0 132.3 L204.0 133.4 L205.0 134.5 L206.0 135.4 L207.0 136.2 L208.0 136.4 L209.0 136.9 L210.0 136.1 L211.0 135.5 L212.0 134.6 L213.0 133.9 L214.0 133.5 L215.0 133.1 L216.0 135.0 L217.0 136.2 L218.0 135.4 L219.0 134.6 L220.0 133.8 L221.0 132.5 L222.0 131.8 L223.0 131.0 L224.0 130.0 L225.0 128.5 L226.0 127.8 L227.0 126.6 L228.0 125.4 L228.5 120.0 L229.8 119.3 L231.0 119.2 L232.0 118.5 L233.0 117.6 L234.0 116.9 L235.0 116.3 L236.0 115.4 L237.0 113.7 L238.0 112.3 L239.0 112.8 L240.0 113.1 L241.0 110.8 L242.0 111.7 L243.0 112.3 L244.0 111.6 L245.0 111.5 L246.0 112.0 L247.0 113.1 L248.0 114.4 L249.0 115.4 L250.0 116.8 L251.0 117.3 L252.0 118.5 L253.0 118.6 L254.1 118.8 L255.1 118.8 L256.2 119.0 L257.2 119.2 L258.4 119.1 L259.6 119.3 L260.8 119.5 L262.0 119.5 L263.4 122.0 L264.4 121.6 L265.5 121.4 L266.5 121.3 L267.5 122.3 L268.5 122.5 L269.5 123.6 L270.7 124.9 L271.9 126.2 L273.0 127.1 L274.2 128.5 L275.7 131.3 L276.7 131.9 L277.8 133.0 L278.8 133.6 L280.3 135.1 L281.3 134.7 L282.4 134.3 L283.4 134.3 L284.7 133.5 L285.9 132.9 L287.2 132.0 L288.2 131.5 L289.3 131.4 L290.3 131.3 L291.3 130.4 L292.4 130.0 L293.4 129.0 L294.7 129.2 L296.0 129.5 L297.0 129.2 L298.0 128.1 L299.0 127.7 L300.0 127.2 L301.0 125.4 L302.0 123.4 L303.0 119.5 L304.0 119.0 L305.0 117.9 L306.0 117.2 L307.0 116.4 L308.0 115.8 L309.0 115.5 L310.0 114.9 L311.0 114.2 L312.0 114.1 L313.0 113.4 L314.0 112.8 L315.0 111.8 L316.5 108.8 L318.0 111.8 L319.0 111.3 L320.0 111.2 L321.0 111.1 L322.0 111.7 L323.0 111.8 L324.0 112.4 L325.0 113.1 L326.0 113.4 L327.0 113.6 L328.0 113.7 L329.0 114.2 L330.0 114.6 L331.0 115.6 L332.0 115.8 L333.0 116.5 L334.0 116.9 L335.0 117.4 L336.0 118.0 L337.0 119.2 L338.0 120.5 L339.0 121.4 L340.0 122.5 L341.0 125.1 L342.0 127.2 L343.0 126.3 L344.0 125.5 L345.0 125.2 L346.0 125.9 L347.0 125.9 L348.0 126.8 L349.0 127.6 L350.0 127.9 L351.2 128.2 L352.5 128.6 L353.8 129.6 L355.0 130.0 L356.0 131.1 L357.0 131.5 L358.0 132.5 L359.0 133.4 L360.0 134.1 L361.0 134.6 L362.0 134.3 L363.0 133.7 L364.0 133.3 L365.0 133.5 L366.0 133.9 L367.0 132.9 L368.0 131.9 L369.0 131.2 L370.0 130.2 L371.0 129.9 L372.0 129.2 L373.0 128.7 L374.0 128.6 L375.0 128.0 L376.0 126.9 L377.0 126.7 L378.0 125.7 L379.0 122.7 L380.0 119.5 L381.0 117.9 L382.0 115.7 L383.0 115.2 L384.0 114.4 L385.0 113.4 L386.0 112.9 L387.0 112.0 L388.0 111.8 L389.0 111.0 L390.0 109.6 L391.0 108.8 L392.0 108.3 L393.0 108.0 L394.0 109.7 L395.0 111.1 L396.0 112.3 L397.0 113.4 L398.0 114.1 L399.0 115.2 L400.0 115.7 L401.0 116.5 L402.0 117.2 L403.0 116.7 L404.0 116.5 L405.0 117.1 L406.0 118.0 L407.0 118.6 L408.0 118.7 L409.0 119.3 L410.0 119.5 L411.0 119.7 L412.0 119.8 L413.0 120.3 L414.0 120.8 L415.0 120.6 L416.0 121.1 L417.0 120.9 L418.0 120.3 L419.0 122.9 L420.0 124.9 L421.0 127.1 L422.0 128.8 L423.0 130.1 L424.0 130.5 L425.0 131.9 L426.0 133.0 L427.0 134.2 L428.0 135.0 L429.0 135.0 L430.0 135.4 L431.0 135.8 L432.0 136.4 L433.0 137.3 L434.0 136.7 L435.0 135.9 L436.0 135.3 L437.0 134.7 L438.0 134.4 L439.0 133.3 L440.0 133.1 L441.0 132.2 L442.0 131.7 L443.0 131.1 L444.0 130.8 L445.0 129.7 L446.0 129.6 L447.0 128.5 L448.0 127.7 L449.0 126.1 L450.0 125.4 L451.0 122.7 L452.0 120.0 L453.0 119.2 L454.0 118.1 L455.0 117.1 L456.0 116.2 L457.0 115.8 L458.0 115.8 L459.0 115.4 L460.0 114.7 L461.0 113.8 L462.0 113.0 L463.0 112.3 L464.0 111.7 L465.0 111.5 L466.0 111.0 L467.0 110.8 L468.0 111.7 L469.0 113.1 L470.0 113.9 L471.0 114.8 L472.0 115.4 L473.0 115.7 L474.0 115.9 L475.0 115.9 L476.0 116.5 L477.0 116.7 L478.0 117.4 L479.0 117.5 L480.0 117.8 L481.0 117.9 L482.0 118.2 L483.0 118.0 L484.0 118.2 L485.0 118.8 L486.0 119.0 L487.0 119.9 L488.0 120.7 L489.0 122.3 L490.0 124.0 L491.0 126.0 L492.0 128.1 L493.2 131.8 L494.5 135.5" fill="none" stroke="#111111" stroke-width="1.05" stroke-linejoin="round"/>
<path d="M31.5 118.2 L32.6 118.4 L33.6 118.5 L34.7 118.8 L35.8 118.8 L36.8 118.9 L37.9 119.2 L38.9 119.4 L40.0 119.5 L41.0 119.5 L42.0 119.7 L43.0 119.9 L44.0 120.2 L45.0 120.2 L46.0 120.7 L47.0 120.9 L48.5 120.2 L50.0 122.9 L51.0 122.1 L52.0 121.5 L53.0 122.8 L54.0 123.9 L55.0 124.9 L56.0 125.5 L57.0 126.2 L58.0 126.9 L59.0 127.2 L60.0 128.0 L61.0 128.5 L62.0 128.9 L63.0 129.5 L64.0 130.0 L65.0 130.3 L66.0 131.0 L67.0 131.6 L68.5 129.6 L70.0 131.0 L71.0 130.4 L72.0 129.6 L73.0 131.0 L74.0 130.3 L75.0 129.4 L76.0 128.9 L77.0 126.6 L78.0 124.2 L79.0 122.4 L80.0 121.0 L81.0 119.9 L82.0 119.0 L83.0 118.6 L84.0 117.8 L85.0 117.5 L86.0 116.4 L87.0 115.5 L88.0 114.8 L89.0 114.3 L90.0 113.5 L91.5 112.1 L93.0 114.1 L94.0 113.3 L95.0 112.8 L96.5 113.5 L98.0 111.4 L99.0 111.9 L100.0 112.8 L101.5 115.5 L103.0 117.5 L104.5 116.2 L106.0 118.2 L107.0 118.4 L108.0 118.2 L109.0 118.6 L110.0 118.6 L111.0 118.7 L112.0 118.8 L113.0 118.9 L114.0 118.8 L115.0 118.9 L116.0 118.8 L117.0 119.0 L118.0 119.5 L119.0 120.0 L120.0 120.2 L121.0 121.2 L122.0 122.2 L123.0 123.0 L124.0 123.6 L125.1 123.6 L126.2 124.1 L127.3 124.2 L128.3 125.2 L129.3 125.7 L130.4 126.7 L131.4 127.6 L132.5 127.6 L133.6 127.7 L134.7 127.6 L135.8 128.6 L137.0 129.7 L138.1 131.0 L139.4 131.2 L140.8 131.6 L142.2 130.0 L143.5 128.3 L144.8 128.7 L146.2 128.9 L147.3 128.9 L148.5 128.8 L149.6 128.9 L150.7 127.1 L151.8 125.3 L152.9 123.6 L153.9 121.5 L154.9 119.5 L155.9 119.0 L156.9 118.9 L158.0 118.7 L159.0 118.2 L160.0 117.8 L161.0 117.5 L162.0 116.6 L163.0 115.4 L164.0 114.6 L165.0 113.5 L166.4 114.8 L167.5 113.6 L168.6 112.2 L169.7 110.8 L171.1 111.1 L172.4 111.4 L173.8 112.4 L175.1 113.5 L176.6 113.9 L178.0 114.1 L179.0 115.3 L180.0 116.2 L181.0 117.1 L182.0 118.2 L183.0 118.2 L184.0 118.6 L185.0 118.8 L186.0 118.8 L187.0 119.0 L188.0 119.1 L189.0 119.4 L190.0 119.5 L191.0 119.8 L192.0 120.3 L193.0 120.9 L194.1 121.4 L195.1 122.3 L196.2 122.9 L197.2 123.4 L198.2 123.9 L199.2 124.6 L200.3 125.3 L201.3 125.6 L202.3 126.2 L203.4 127.5 L204.4 128.6 L205.5 130.0 L206.5 131.1 L207.6 132.3 L208.9 132.8 L210.3 133.4 L211.3 132.7 L212.4 132.1 L213.4 131.7 L214.4 131.2 L215.7 132.4 L217.0 133.6 L218.0 132.7 L219.1 132.1 L220.1 131.4 L221.1 130.7 L222.6 130.1 L224.0 129.2 L225.0 128.3 L226.0 127.9 L227.0 126.9 L228.0 126.1 L229.0 125.4 L230.0 123.1 L231.0 120.8 L232.0 119.6 L233.0 118.5 L234.0 118.1 L235.0 117.6 L236.0 116.9 L237.0 116.2 L238.0 115.4 L239.0 114.6 L240.0 113.8 L241.0 113.7 L242.0 113.5 L243.0 113.1 L244.0 113.3 L245.0 113.7 L246.0 113.8 L247.0 114.8 L248.0 115.4 L249.0 116.1 L250.0 116.9 L251.0 117.6 L252.0 118.5 L253.0 118.6 L254.0 119.1 L255.0 119.2 L256.0 119.3 L257.0 119.4 L258.0 119.3 L259.0 119.1 L260.0 119.1 L261.0 119.1 L262.0 119.2 L263.4 121.5 L264.4 121.1 L265.5 121.1 L266.5 120.8 L267.5 121.7 L268.5 122.5 L269.5 123.1 L270.5 124.8 L271.6 126.8 L272.6 128.5 L273.6 129.2 L274.7 130.0 L275.7 130.8 L276.7 131.7 L277.8 132.2 L278.8 133.1 L280.3 134.6 L281.3 134.2 L282.4 134.2 L283.4 133.8 L284.7 133.0 L285.9 132.2 L287.2 131.5 L288.2 131.3 L289.3 131.1 L290.3 130.8 L291.8 131.5 L293.4 128.5 L294.7 128.8 L296.0 129.5 L297.0 129.7 L298.0 130.0 L299.0 130.3 L300.0 129.0 L301.0 127.7 L302.0 126.5 L303.0 125.2 L304.0 124.1 L305.0 122.6 L306.0 121.0 L307.0 119.5 L308.0 119.0 L309.0 118.3 L310.0 118.0 L311.0 117.5 L312.0 117.3 L313.0 116.8 L314.0 116.3 L315.0 116.2 L316.0 115.7 L317.0 115.6 L318.0 115.0 L319.0 114.9 L320.0 114.8 L321.0 114.4 L322.0 114.2 L323.0 114.5 L324.0 114.8 L325.0 114.9 L326.0 114.5 L327.0 114.2 L328.0 115.0 L329.0 115.7 L330.0 116.2 L331.0 116.5 L332.0 117.0 L333.0 117.2 L334.0 117.4 L335.0 117.8 L336.0 118.0 L337.0 119.1 L338.0 119.8 L339.0 121.7 L340.0 123.4 L341.0 125.2 L342.0 128.0 L343.0 131.2 L344.0 130.2 L345.0 129.2 L346.5 126.5 L347.8 127.8 L349.0 129.2 L350.0 130.3 L351.0 131.2 L352.0 132.3 L353.0 133.3 L354.2 131.7 L355.5 130.0 L356.8 132.5 L358.0 135.3 L359.0 135.8 L360.0 136.2 L361.0 136.6 L362.0 135.8 L363.0 135.3 L364.0 135.0 L365.0 134.4 L366.0 133.9 L367.0 132.8 L368.0 132.3 L369.0 131.2 L370.0 130.4 L371.0 129.8 L372.0 129.2 L373.0 129.1 L374.0 128.8 L375.0 128.6 L376.0 127.9 L377.0 127.3 L378.0 126.5 L379.0 124.5 L380.0 122.6 L381.0 120.6 L382.0 118.8 L383.0 117.9 L384.0 117.1 L385.0 116.5 L386.0 116.1 L387.0 115.5 L388.0 114.9 L389.0 114.2 L390.0 113.5 L391.0 112.6 L392.0 111.8 L393.0 111.1 L394.0 112.2 L395.0 113.4 L396.0 114.1 L397.0 114.9 L398.0 115.3 L399.0 115.3 L400.0 115.7 L401.0 116.5 L402.0 117.2 L403.0 116.7 L404.0 116.5 L405.0 117.4 L406.0 118.0 L407.0 117.9 L408.0 117.9 L409.0 118.0 L410.0 118.0 L411.0 118.2 L412.0 118.5 L413.0 118.5 L414.0 118.8 L415.0 119.3 L416.0 119.5 L417.0 119.0 L418.0 118.8 L419.0 120.2 L420.0 121.8 L421.0 123.0 L422.0 124.3 L423.0 125.8 L424.0 126.7 L425.0 127.4 L426.0 128.1 L427.0 128.5 L428.0 129.0 L429.0 129.6 L430.0 130.1 L431.0 130.8 L432.0 131.2 L433.0 131.6 L434.0 131.8 L435.0 131.9 L436.0 132.1 L437.0 132.1 L438.0 132.4 L439.0 132.2 L440.0 131.9 L441.0 131.9 L442.0 131.5 L443.0 131.2 L444.0 130.8 L445.0 130.3 L446.0 129.9 L447.0 129.7 L448.0 129.2 L449.0 128.3 L450.0 127.7 L451.0 127.1 L452.0 126.2 L453.0 125.2 L454.0 123.8 L455.0 122.8 L456.0 121.5 L457.0 120.3 L458.0 119.2 L459.0 118.5 L460.0 117.7 L461.0 116.9 L462.0 116.5 L463.0 116.1 L464.0 115.4 L465.0 114.7 L466.0 113.8 L467.0 113.4 L468.0 113.1 L469.0 114.0 L470.0 114.6 L471.0 114.2 L472.0 113.8 L473.0 115.7 L474.0 116.0 L475.0 116.3 L476.0 116.5 L477.0 116.8 L478.0 117.4 L479.0 117.7 L480.0 117.8 L481.0 117.9 L482.0 118.0 L483.0 118.1 L484.0 118.2 L485.0 118.8 L486.0 119.5 L487.0 120.8 L488.0 122.3 L489.0 124.8 L490.0 127.3 L491.5 130.6 L493.0 134.7 L494.5 137.2" fill="none" stroke="#ff0000" stroke-width="0.95" stroke-linejoin="round"/>
</g>
<rect x="31.50" y="89.20" width="463.00" height="53.10" stroke="#3a3a3a" stroke-width="1.00" fill="none"/>
<line x1="28.30" y1="96.50" x2="31.50" y2="96.50" stroke="#3a3a3a" stroke-width="0.90"/>
<text x="25.20" y="99.20" font-size="6.30" text-anchor="end" fill="#2a2a2a" font-weight="normal">20</text>
<line x1="28.30" y1="107.40" x2="31.50" y2="107.40" stroke="#3a3a3a" stroke-width="0.90"/>
<text x="25.20" y="110.10" font-size="6.30" text-anchor="end" fill="#2a2a2a" font-weight="normal">10</text>
<line x1="28.30" y1="118.20" x2="31.50" y2="118.20" stroke="#3a3a3a" stroke-width="0.90"/>
<text x="25.20" y="120.90" font-size="6.30" text-anchor="end" fill="#2a2a2a" font-weight="normal">0</text>
<line x1="28.30" y1="129.20" x2="31.50" y2="129.20" stroke="#3a3a3a" stroke-width="0.90"/>
<text x="25.20" y="131.90" font-size="6.30" text-anchor="end" fill="#2a2a2a" font-weight="normal">−10</text>
<line x1="28.30" y1="140.20" x2="31.50" y2="140.20" stroke="#3a3a3a" stroke-width="0.90"/>
<text x="25.20" y="142.90" font-size="6.30" text-anchor="end" fill="#2a2a2a" font-weight="normal">−20</text>
<text x="9.90" y="116.00" font-size="6.60" text-anchor="middle" fill="#2a2a2a" font-weight="normal" transform="rotate(-90 9.90 116.00)" letter-spacing="-0.25" stroke="#222" stroke-width="0.1">T [°C]</text>
<text x="34.60" y="99.60" font-size="9.00" text-anchor="start" fill="#9a9a9a" font-weight="normal">b</text>
<rect x="278.40" y="89.20" width="216.10" height="13.80" stroke="#3a3a3a" stroke-width="1.00" fill="#fff"/>
<line x1="287.30" y1="96.50" x2="298.30" y2="96.50" stroke="#ff0000" stroke-width="0.80"/>
<text x="303.00" y="98.20" font-size="6.00" text-anchor="start" fill="#2a2a2a" font-weight="normal" stroke="#222" stroke-width="0.08">Model</text>
<line x1="358.80" y1="96.50" x2="369.80" y2="96.50" stroke="#1a1a1a" stroke-width="0.80"/>
<text x="374.60" y="98.20" font-size="6.00" text-anchor="start" fill="#2a2a2a" font-weight="normal" stroke="#222" stroke-width="0.08">Observed (mean)</text>
<rect x="426.30" y="94.00" width="4.60" height="4.20" stroke="none" stroke-width="0.00" fill="#bdbdbd"/>
<text x="446.00" y="98.20" font-size="6.00" text-anchor="start" fill="#2a2a2a" font-weight="normal" stroke="#222" stroke-width="0.08">Observed (range)</text>
<line x1="50.40" y1="142.30" x2="50.40" y2="146.40" stroke="#3a3a3a" stroke-width="0.90"/>
<text x="50.40" y="155.60" font-size="6.30" text-anchor="middle" fill="#2a2a2a" font-weight="normal">2016</text>
<line x1="124.40" y1="142.30" x2="124.40" y2="146.40" stroke="#3a3a3a" stroke-width="0.90"/>
<text x="124.40" y="155.60" font-size="6.30" text-anchor="middle" fill="#2a2a2a" font-weight="normal">2017</text>
<line x1="198.40" y1="142.30" x2="198.40" y2="146.40" stroke="#3a3a3a" stroke-width="0.90"/>
<text x="198.40" y="155.60" font-size="6.30" text-anchor="middle" fill="#2a2a2a" font-weight="normal">2018</text>
<line x1="272.40" y1="142.30" x2="272.40" y2="146.40" stroke="#3a3a3a" stroke-width="0.90"/>
<text x="272.40" y="155.60" font-size="6.30" text-anchor="middle" fill="#2a2a2a" font-weight="normal">2019</text>
<line x1="346.40" y1="142.30" x2="346.40" y2="146.40" stroke="#3a3a3a" stroke-width="0.90"/>
<text x="346.40" y="155.60" font-size="6.30" text-anchor="middle" fill="#2a2a2a" font-weight="normal">2020</text>
<line x1="420.40" y1="142.30" x2="420.40" y2="146.40" stroke="#3a3a3a" stroke-width="0.90"/>
<text x="420.40" y="155.60" font-size="6.30" text-anchor="middle" fill="#2a2a2a" font-weight="normal">2021</text>
<line x1="63.50" y1="187.40" x2="63.50" y2="226.20" stroke="#7a7a7a" stroke-width="0.60" stroke-dasharray="0.7 1.3"/>
<g clip-path="url(#cc0)">
<path d="M40.70 189.10 C41.40 189.60 45.41 192.00 46.50 193.30 C47.59 194.60 49.10 197.92 49.80 199.90 C50.50 201.88 51.80 207.12 52.30 209.80 C52.80 212.48 53.80 220.71 54.00 222.20" fill="none" stroke="#4343ff" stroke-width="0.90" stroke-linejoin="round"/>
<path d="M43.20 189.10 C43.80 189.80 47.11 192.62 48.20 194.90 C49.29 197.18 51.54 204.52 52.30 208.10 C53.06 211.68 54.24 222.71 54.50 224.70" fill="none" stroke="#4343ff" stroke-width="0.90" stroke-dasharray="2.2 2.2" stroke-linejoin="round"/>
<path d="M58.80 189.40 C58.73 191.27 58.33 201.26 58.20 205.00 C58.07 208.74 57.76 218.73 57.70 220.60" fill="none" stroke="#333333" stroke-width="0.80" stroke-linejoin="round"/>
<path d="M60.00 189.50 C59.88 189.92 59.19 191.14 59.00 193.00 C58.81 194.86 58.52 201.52 58.40 205.00 C58.28 208.48 58.05 219.96 58.00 222.00" fill="none" stroke="#333333" stroke-width="0.80" stroke-dasharray="2.2 2.2" stroke-linejoin="round"/>
<path d="M82.10 189.10 C80.41 189.70 70.28 193.31 68.00 194.10 C65.72 194.89 63.93 194.81 63.10 195.70 C62.27 196.59 61.50 199.21 61.10 201.50 C60.70 203.79 60.12 212.52 59.80 214.80 C59.48 217.08 58.57 219.82 58.40 220.50" fill="none" stroke="#ff4040" stroke-width="0.90" stroke-linejoin="round"/>
<path d="M74.60 189.10 C73.41 189.80 66.28 192.81 64.70 194.90 C63.12 196.99 61.99 202.92 61.40 206.50 C60.81 210.08 59.99 222.52 59.80 224.70" fill="none" stroke="#ff4040" stroke-width="0.90" stroke-dasharray="2.2 2.2" stroke-linejoin="round"/>
</g>
<rect x="31.50" y="187.40" width="52.20" height="38.80" stroke="#3a3a3a" stroke-width="1.00" fill="none"/>
<text x="58.10" y="182.40" font-size="7.70" text-anchor="middle" fill="#111" font-weight="bold" stroke="#111" stroke-width="0.15">2016</text>
<text x="33.50" y="198.00" font-size="8.60" text-anchor="start" fill="#ababab" font-weight="normal">c</text>
<line x1="46.67" y1="226.20" x2="46.67" y2="229.60" stroke="#777" stroke-width="0.90"/>
<text x="46.67" y="239.60" font-size="6.30" text-anchor="middle" fill="#2a2a2a" font-weight="normal">−10</text>
<line x1="63.50" y1="226.20" x2="63.50" y2="229.60" stroke="#777" stroke-width="0.90"/>
<text x="63.50" y="239.60" font-size="6.30" text-anchor="middle" fill="#2a2a2a" font-weight="normal">0</text>
<line x1="80.33" y1="226.20" x2="80.33" y2="229.60" stroke="#777" stroke-width="0.90"/>
<text x="80.33" y="239.60" font-size="6.30" text-anchor="middle" fill="#2a2a2a" font-weight="normal">10</text>
<text x="57.80" y="253.70" font-size="6.60" text-anchor="middle" fill="#2a2a2a" font-weight="normal" letter-spacing="-0.12" stroke="#222" stroke-width="0.06">T [<tspan font-size="4.6" dy="-0.3">°</tspan><tspan dy="0.3">C]</tspan></text>
<line x1="145.66" y1="187.40" x2="145.66" y2="226.20" stroke="#7a7a7a" stroke-width="0.60" stroke-dasharray="0.7 1.3"/>
<g clip-path="url(#cc1)">
<path d="M116.10 189.10 C117.00 189.40 122.11 190.51 123.60 191.60 C125.09 192.69 127.41 196.62 128.50 198.20 C129.59 199.78 132.00 203.01 132.70 204.80 C133.40 206.59 133.90 211.22 134.30 213.10 C134.70 214.98 135.80 219.61 136.00 220.50" fill="none" stroke="#4343ff" stroke-width="0.90" stroke-linejoin="round"/>
<path d="M126.00 189.10 C126.50 189.80 129.30 193.21 130.20 194.90 C131.10 196.59 132.91 200.81 133.50 203.20 C134.09 205.59 134.70 212.33 135.10 214.80 C135.50 217.27 136.60 222.72 136.80 223.80" fill="none" stroke="#4343ff" stroke-width="0.90" stroke-dasharray="2.2 2.2" stroke-linejoin="round"/>
<path d="M140.90 189.10 C140.65 190.00 138.99 194.32 138.80 196.60 C138.61 198.88 139.18 205.12 139.30 208.10 C139.42 211.08 139.74 219.80 139.80 221.40" fill="none" stroke="#333333" stroke-width="0.80" stroke-linejoin="round"/>
<path d="M141.80 189.10 C141.63 190.40 140.51 195.83 140.40 199.90 C140.29 203.97 140.84 220.23 140.90 223.00" fill="none" stroke="#333333" stroke-width="0.80" stroke-dasharray="2.2 2.2" stroke-linejoin="round"/>
<path d="M163.20 189.10 C162.41 189.40 158.58 190.81 156.60 191.60 C154.62 192.39 148.13 194.51 146.70 195.70 C145.27 196.89 145.13 199.41 144.70 201.50 C144.27 203.59 143.35 210.52 143.10 213.10 C142.85 215.68 142.66 221.81 142.60 223.00" fill="none" stroke="#ff4040" stroke-width="0.90" stroke-linejoin="round"/>
<path d="M160.00 189.10 C158.50 189.70 149.40 192.22 147.50 194.10 C145.60 195.98 144.85 201.03 144.20 204.80 C143.55 208.57 142.35 223.02 142.10 225.50" fill="none" stroke="#ff4040" stroke-width="0.90" stroke-dasharray="2.2 2.2" stroke-linejoin="round"/>
</g>
<rect x="113.66" y="187.40" width="52.20" height="38.80" stroke="#3a3a3a" stroke-width="1.00" fill="none"/>
<text x="140.26" y="182.40" font-size="7.70" text-anchor="middle" fill="#111" font-weight="bold" stroke="#111" stroke-width="0.15">2017</text>
<text x="115.66" y="198.00" font-size="8.60" text-anchor="start" fill="#ababab" font-weight="normal">d</text>
<line x1="128.83" y1="226.20" x2="128.83" y2="229.60" stroke="#777" stroke-width="0.90"/>
<text x="128.83" y="239.60" font-size="6.30" text-anchor="middle" fill="#2a2a2a" font-weight="normal">−10</text>
<line x1="145.66" y1="226.20" x2="145.66" y2="229.60" stroke="#777" stroke-width="0.90"/>
<text x="145.66" y="239.60" font-size="6.30" text-anchor="middle" fill="#2a2a2a" font-weight="normal">0</text>
<line x1="162.49" y1="226.20" x2="162.49" y2="229.60" stroke="#777" stroke-width="0.90"/>
<text x="162.49" y="239.60" font-size="6.30" text-anchor="middle" fill="#2a2a2a" font-weight="normal">10</text>
<text x="139.96" y="253.70" font-size="6.60" text-anchor="middle" fill="#2a2a2a" font-weight="normal" letter-spacing="-0.12" stroke="#222" stroke-width="0.06">T [<tspan font-size="4.6" dy="-0.3">°</tspan><tspan dy="0.3">C]</tspan></text>
<line x1="227.82" y1="187.40" x2="227.82" y2="226.20" stroke="#7a7a7a" stroke-width="0.60" stroke-dasharray="0.7 1.3"/>
<g clip-path="url(#cc2)">
<path d="M196.00 190.00 C196.95 190.29 202.35 191.42 203.90 192.40 C205.45 193.38 207.81 196.32 208.90 198.20 C209.99 200.08 212.11 205.52 213.00 208.10 C213.89 210.68 215.76 217.91 216.30 219.70 C216.84 221.49 217.36 222.60 217.50 223.00" fill="none" stroke="#4343ff" stroke-width="0.90" stroke-linejoin="round"/>
<path d="M203.90 189.10 C204.69 189.80 209.20 192.62 210.50 194.90 C211.80 197.18 213.91 204.82 214.70 208.10 C215.49 211.38 216.81 220.51 217.10 222.20" fill="none" stroke="#4343ff" stroke-width="0.90" stroke-dasharray="2.2 2.2" stroke-linejoin="round"/>
<path d="M220.10 190.00 C220.04 191.78 219.56 200.94 219.60 204.80 C219.64 208.66 220.30 220.11 220.40 222.20" fill="none" stroke="#333333" stroke-width="0.80" stroke-linejoin="round"/>
<path d="M221.3 189.1 L221.3 224.7" fill="none" stroke="#333333" stroke-width="0.80" stroke-dasharray="2.2 2.2" stroke-linejoin="round"/>
<path d="M247.70 190.00 C246.61 190.29 240.78 191.72 238.60 192.40 C236.42 193.08 230.88 194.61 229.50 195.70 C228.12 196.79 227.59 199.21 227.10 201.50 C226.61 203.79 225.80 212.41 225.40 214.80 C225.00 217.19 223.99 220.61 223.80 221.40" fill="none" stroke="#ff4040" stroke-width="0.90" stroke-linejoin="round"/>
<path d="M238.60 188.60 C237.51 189.26 230.93 191.95 229.50 194.10 C228.07 196.25 227.19 202.83 226.70 206.50 C226.21 210.17 225.56 222.52 225.40 224.70" fill="none" stroke="#ff4040" stroke-width="0.90" stroke-dasharray="2.2 2.2" stroke-linejoin="round"/>
</g>
<rect x="195.82" y="187.40" width="52.20" height="38.80" stroke="#3a3a3a" stroke-width="1.00" fill="none"/>
<text x="222.42" y="182.40" font-size="7.70" text-anchor="middle" fill="#111" font-weight="bold" stroke="#111" stroke-width="0.15">2018</text>
<text x="197.82" y="198.00" font-size="8.60" text-anchor="start" fill="#ababab" font-weight="normal">e</text>
<line x1="210.99" y1="226.20" x2="210.99" y2="229.60" stroke="#777" stroke-width="0.90"/>
<text x="210.99" y="239.60" font-size="6.30" text-anchor="middle" fill="#2a2a2a" font-weight="normal">−10</text>
<line x1="227.82" y1="226.20" x2="227.82" y2="229.60" stroke="#777" stroke-width="0.90"/>
<text x="227.82" y="239.60" font-size="6.30" text-anchor="middle" fill="#2a2a2a" font-weight="normal">0</text>
<line x1="244.65" y1="226.20" x2="244.65" y2="229.60" stroke="#777" stroke-width="0.90"/>
<text x="244.65" y="239.60" font-size="6.30" text-anchor="middle" fill="#2a2a2a" font-weight="normal">10</text>
<text x="222.12" y="253.70" font-size="6.60" text-anchor="middle" fill="#2a2a2a" font-weight="normal" letter-spacing="-0.12" stroke="#222" stroke-width="0.06">T [<tspan font-size="4.6" dy="-0.3">°</tspan><tspan dy="0.3">C]</tspan></text>
<line x1="309.98" y1="187.40" x2="309.98" y2="226.20" stroke="#7a7a7a" stroke-width="0.60" stroke-dasharray="0.7 1.3"/>
<g clip-path="url(#cc3)">
<path d="M278.20 189.10 C279.12 189.30 284.18 189.90 285.90 190.80 C287.62 191.70 291.20 194.72 292.50 196.60 C293.80 198.48 295.91 203.52 296.70 206.50 C297.49 209.48 298.81 219.61 299.10 221.40" fill="none" stroke="#4343ff" stroke-width="0.90" stroke-linejoin="round"/>
<path d="M285.10 189.10 C285.80 189.80 289.62 192.62 290.90 194.90 C292.18 197.18 294.91 204.52 295.80 208.10 C296.69 211.68 298.00 222.71 298.30 224.70" fill="none" stroke="#4343ff" stroke-width="0.90" stroke-dasharray="2.2 2.2" stroke-linejoin="round"/>
<path d="M303.3 190.0 L303.3 222.2" fill="none" stroke="#333333" stroke-width="0.80" stroke-linejoin="round"/>
<path d="M302.4 189.1 L302.4 224.7" fill="none" stroke="#333333" stroke-width="0.80" stroke-dasharray="2.2 2.2" stroke-linejoin="round"/>
<path d="M329.70 190.00 C328.51 190.19 321.98 191.01 319.80 191.60 C317.62 192.19 312.78 193.71 311.50 194.90 C310.22 196.09 309.69 198.72 309.10 201.50 C308.51 204.28 307.00 215.62 306.60 218.10 C306.20 220.58 305.90 221.71 305.80 222.20" fill="none" stroke="#ff4040" stroke-width="0.90" stroke-linejoin="round"/>
<path d="M315.70 189.10 C315.10 189.70 311.60 192.01 310.70 194.10 C309.80 196.19 308.69 202.73 308.20 206.50 C307.71 210.27 306.79 223.22 306.60 225.50" fill="none" stroke="#ff4040" stroke-width="0.90" stroke-dasharray="2.2 2.2" stroke-linejoin="round"/>
</g>
<rect x="277.98" y="187.40" width="52.20" height="38.80" stroke="#3a3a3a" stroke-width="1.00" fill="none"/>
<text x="304.58" y="182.40" font-size="7.70" text-anchor="middle" fill="#111" font-weight="bold" stroke="#111" stroke-width="0.15">2019</text>
<text x="279.98" y="198.00" font-size="8.60" text-anchor="start" fill="#ababab" font-weight="normal">f</text>
<line x1="293.15" y1="226.20" x2="293.15" y2="229.60" stroke="#777" stroke-width="0.90"/>
<text x="293.15" y="239.60" font-size="6.30" text-anchor="middle" fill="#2a2a2a" font-weight="normal">−10</text>
<line x1="309.98" y1="226.20" x2="309.98" y2="229.60" stroke="#777" stroke-width="0.90"/>
<text x="309.98" y="239.60" font-size="6.30" text-anchor="middle" fill="#2a2a2a" font-weight="normal">0</text>
<line x1="326.81" y1="226.20" x2="326.81" y2="229.60" stroke="#777" stroke-width="0.90"/>
<text x="326.81" y="239.60" font-size="6.30" text-anchor="middle" fill="#2a2a2a" font-weight="normal">10</text>
<text x="304.28" y="253.70" font-size="6.60" text-anchor="middle" fill="#2a2a2a" font-weight="normal" letter-spacing="-0.12" stroke="#222" stroke-width="0.06">T [<tspan font-size="4.6" dy="-0.3">°</tspan><tspan dy="0.3">C]</tspan></text>
<line x1="392.14" y1="187.40" x2="392.14" y2="226.20" stroke="#7a7a7a" stroke-width="0.60" stroke-dasharray="0.7 1.3"/>
<g clip-path="url(#cc4)">
<path d="M360.30 189.10 C361.21 189.30 366.29 189.90 367.90 190.80 C369.51 191.70 372.51 194.72 373.70 196.60 C374.89 198.48 377.01 203.92 377.80 206.50 C378.59 209.08 379.80 216.22 380.30 218.10 C380.80 219.98 381.80 221.71 382.00 222.20" fill="none" stroke="#4343ff" stroke-width="0.90" stroke-linejoin="round"/>
<path d="M360.30 190.00 C361.12 190.40 365.70 191.92 367.10 193.30 C368.50 194.68 371.00 199.12 372.00 201.50 C373.00 203.88 374.60 210.22 375.40 213.10 C376.20 215.98 378.30 224.01 378.70 225.50" fill="none" stroke="#4343ff" stroke-width="0.90" stroke-dasharray="2.2 2.2" stroke-linejoin="round"/>
<path d="M385.30 189.10 C385.10 190.59 383.80 197.53 383.60 201.50 C383.40 205.47 383.60 219.72 383.60 222.20" fill="none" stroke="#333333" stroke-width="0.80" stroke-linejoin="round"/>
<path d="M382.0 189.1 L382.8 224.7" fill="none" stroke="#333333" stroke-width="0.80" stroke-dasharray="2.2 2.2" stroke-linejoin="round"/>
<path d="M411.70 190.00 C410.51 190.19 404.08 191.01 401.80 191.60 C399.52 192.19 394.09 193.71 392.70 194.90 C391.31 196.09 390.69 198.92 390.20 201.50 C389.71 204.08 388.89 213.72 388.60 216.40 C388.31 219.08 387.90 222.91 387.80 223.80" fill="none" stroke="#ff4040" stroke-width="0.90" stroke-linejoin="round"/>
<path d="M401.80 188.60 C400.80 189.06 394.84 191.03 393.50 192.40 C392.16 193.77 391.16 197.29 390.60 200.00 C390.04 202.71 389.09 212.06 388.80 215.00 C388.51 217.94 388.27 223.36 388.20 224.50" fill="none" stroke="#ff4040" stroke-width="0.90" stroke-dasharray="2.2 2.2" stroke-linejoin="round"/>
</g>
<rect x="360.14" y="187.40" width="52.20" height="38.80" stroke="#3a3a3a" stroke-width="1.00" fill="none"/>
<text x="386.74" y="182.40" font-size="7.70" text-anchor="middle" fill="#111" font-weight="bold" stroke="#111" stroke-width="0.15">2020</text>
<text x="362.14" y="198.00" font-size="8.60" text-anchor="start" fill="#ababab" font-weight="normal">g</text>
<line x1="375.31" y1="226.20" x2="375.31" y2="229.60" stroke="#777" stroke-width="0.90"/>
<text x="375.31" y="239.60" font-size="6.30" text-anchor="middle" fill="#2a2a2a" font-weight="normal">−10</text>
<line x1="392.14" y1="226.20" x2="392.14" y2="229.60" stroke="#777" stroke-width="0.90"/>
<text x="392.14" y="239.60" font-size="6.30" text-anchor="middle" fill="#2a2a2a" font-weight="normal">0</text>
<line x1="408.97" y1="226.20" x2="408.97" y2="229.60" stroke="#777" stroke-width="0.90"/>
<text x="408.97" y="239.60" font-size="6.30" text-anchor="middle" fill="#2a2a2a" font-weight="normal">10</text>
<text x="386.44" y="253.70" font-size="6.60" text-anchor="middle" fill="#2a2a2a" font-weight="normal" letter-spacing="-0.12" stroke="#222" stroke-width="0.06">T [<tspan font-size="4.6" dy="-0.3">°</tspan><tspan dy="0.3">C]</tspan></text>
<line x1="474.30" y1="187.40" x2="474.30" y2="226.20" stroke="#7a7a7a" stroke-width="0.60" stroke-dasharray="0.7 1.3"/>
<g clip-path="url(#cc5)">
<path d="M442.40 190.00 C443.11 190.10 446.80 190.01 448.30 190.80 C449.80 191.59 453.62 194.52 454.90 196.60 C456.18 198.68 458.11 205.23 459.00 208.10 C459.89 210.97 461.90 219.01 462.30 220.50" fill="none" stroke="#4343ff" stroke-width="0.90" stroke-linejoin="round"/>
<path d="M452.40 189.10 C452.89 189.80 455.50 192.62 456.50 194.90 C457.50 197.18 459.91 204.63 460.70 208.10 C461.49 211.57 462.81 221.92 463.10 223.80" fill="none" stroke="#4343ff" stroke-width="0.90" stroke-dasharray="2.2 2.2" stroke-linejoin="round"/>
<path d="M466.40 189.60 C466.06 189.94 463.70 190.37 463.60 192.40 C463.50 194.43 465.26 203.02 465.60 206.50 C465.94 209.98 466.30 219.61 466.40 221.40" fill="none" stroke="#333333" stroke-width="0.80" stroke-linejoin="round"/>
<path d="M468.10 189.10 C468.00 190.59 467.34 197.34 467.30 201.50 C467.26 205.66 467.74 221.12 467.80 223.80" fill="none" stroke="#333333" stroke-width="0.80" stroke-dasharray="2.2 2.2" stroke-linejoin="round"/>
<path d="M488.80 189.10 C487.50 189.40 479.69 190.90 478.00 191.60 C476.31 192.30 475.40 193.51 474.70 194.90 C474.00 196.29 472.69 200.62 472.20 203.20 C471.71 205.78 470.94 214.02 470.60 216.40 C470.26 218.78 469.54 222.21 469.40 223.00" fill="none" stroke="#ff4040" stroke-width="0.90" stroke-linejoin="round"/>
<path d="M483.80 189.10 C482.91 189.50 477.68 190.91 476.40 192.40 C475.12 193.89 473.75 198.79 473.10 201.50 C472.45 204.21 471.37 212.30 471.00 215.00 C470.63 217.70 470.12 222.92 470.00 224.00" fill="none" stroke="#ff4040" stroke-width="0.90" stroke-dasharray="2.2 2.2" stroke-linejoin="round"/>
</g>
<rect x="442.30" y="187.40" width="52.20" height="38.80" stroke="#3a3a3a" stroke-width="1.00" fill="none"/>
<text x="468.90" y="182.40" font-size="7.70" text-anchor="middle" fill="#111" font-weight="bold" stroke="#111" stroke-width="0.15">2021</text>
<text x="444.30" y="198.00" font-size="8.60" text-anchor="start" fill="#ababab" font-weight="normal">h</text>
<line x1="457.47" y1="226.20" x2="457.47" y2="229.60" stroke="#777" stroke-width="0.90"/>
<text x="457.47" y="239.60" font-size="6.30" text-anchor="middle" fill="#2a2a2a" font-weight="normal">−10</text>
<line x1="474.30" y1="226.20" x2="474.30" y2="229.60" stroke="#777" stroke-width="0.90"/>
<text x="474.30" y="239.60" font-size="6.30" text-anchor="middle" fill="#2a2a2a" font-weight="normal">0</text>
<line x1="491.13" y1="226.20" x2="491.13" y2="229.60" stroke="#777" stroke-width="0.90"/>
<text x="491.13" y="239.60" font-size="6.30" text-anchor="middle" fill="#2a2a2a" font-weight="normal">10</text>
<text x="468.60" y="253.70" font-size="6.60" text-anchor="middle" fill="#2a2a2a" font-weight="normal" letter-spacing="-0.12" stroke="#222" stroke-width="0.06">T [<tspan font-size="4.6" dy="-0.3">°</tspan><tspan dy="0.3">C]</tspan></text>
<line x1="28.00" y1="195.40" x2="31.30" y2="195.40" stroke="#3a3a3a" stroke-width="0.90"/>
<text x="25.00" y="198.00" font-size="6.30" text-anchor="end" fill="#2a2a2a" font-weight="normal">1</text>
<line x1="28.00" y1="203.50" x2="31.30" y2="203.50" stroke="#3a3a3a" stroke-width="0.90"/>
<text x="25.00" y="206.10" font-size="6.30" text-anchor="end" fill="#2a2a2a" font-weight="normal">2</text>
<line x1="28.00" y1="210.70" x2="31.30" y2="210.70" stroke="#3a3a3a" stroke-width="0.90"/>
<text x="25.00" y="213.30" font-size="6.30" text-anchor="end" fill="#2a2a2a" font-weight="normal">3</text>
<line x1="28.00" y1="217.90" x2="31.30" y2="217.90" stroke="#3a3a3a" stroke-width="0.90"/>
<text x="25.00" y="220.50" font-size="6.30" text-anchor="end" fill="#2a2a2a" font-weight="normal">4</text>
<line x1="28.00" y1="224.60" x2="31.30" y2="224.60" stroke="#3a3a3a" stroke-width="0.90"/>
<text x="25.00" y="227.20" font-size="6.30" text-anchor="end" fill="#2a2a2a" font-weight="normal">5</text>
<text x="9.90" y="206.30" font-size="6.60" text-anchor="middle" fill="#2a2a2a" font-weight="normal" transform="rotate(-90 9.90 206.30)" letter-spacing="-0.2" stroke="#222" stroke-width="0.1">z [m]</text>
</svg>
</body></html>
